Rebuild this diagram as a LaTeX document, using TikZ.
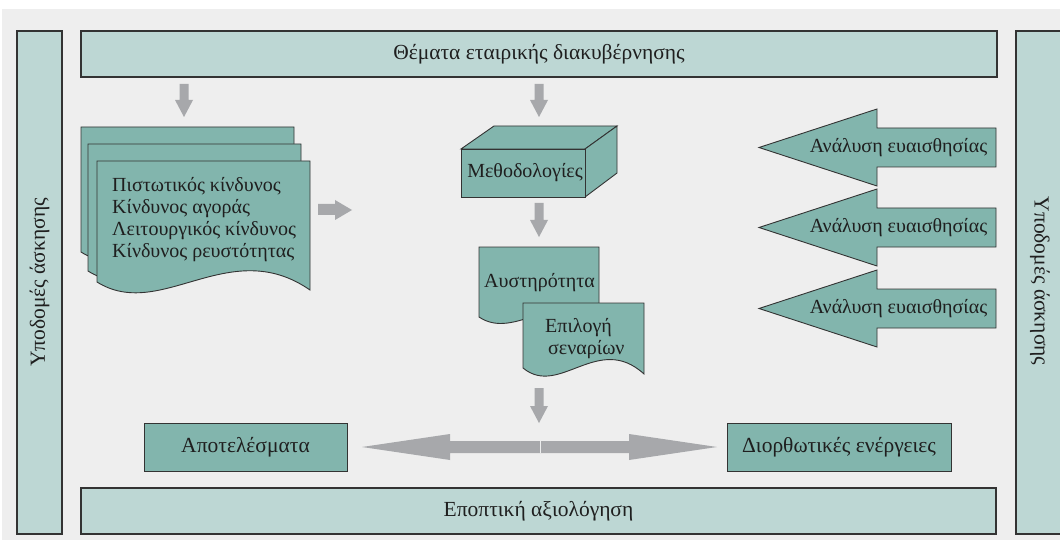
\documentclass[tikz,border=0pt]{standalone}
\usepackage{fontspec}
\setmainfont{Liberation Serif}
\definecolor{bgc}{HTML}{EEEEEE}
\definecolor{barc}{HTML}{BDD7D4}
\definecolor{boxc}{HTML}{82B5AD}
\definecolor{arrc}{HTML}{A7A8AB}
\definecolor{edgec}{HTML}{333333}
\tikzset{
  bar/.style={draw=edgec, line width=1.3pt, fill=barc, inner sep=0pt, font=\fontsize{21.5}{24}\selectfont, text=black!88},
  tealbox/.style={draw=edgec, line width=0.9pt, fill=boxc, inner sep=0pt, font=\fontsize{21.5}{24}\selectfont, text=black!88},
  tealshape/.style={draw=edgec, line width=0.9pt, fill=boxc, line join=miter},
  blockarrow/.style={fill=arrc, draw=none},
  lbl/.style={inner sep=0pt, font=\fontsize{20}{22}\selectfont, text=black!88}
}
% doc sheet: x y w h amplitude
\newcommand\docsheet[5]{%
  \draw[tealshape] (#1,#2) -- ({#1+#3},#2) -- ({#1+#3},{#2+#4+8*#5})
    .. controls ({#1+0.62*#3},{#2+#4-48*#5}) and ({#1+0.3*#3},{#2+#4+40*#5}) .. (#1,{#2+#4}) -- cycle;}
\newcommand\grayDown[3]{% x ytop ytip
  \fill[blockarrow] ({#1-4.5},#2) -- ({#1+4.5},#2) -- ({#1+4.5},{#3-17}) -- ({#1+9},{#3-17}) -- (#1,#3) -- ({#1-9},{#3-17}) -- ({#1-4.5},{#3-17}) -- cycle;}
\newcommand\tealLeft[1]{% y centre
  \draw[tealshape] (759,#1) -- (877,{#1-38.5}) -- (877,{#1-19.5}) -- (996,{#1-19.5}) -- (996,{#1+19.5}) -- (877,{#1+19.5}) -- (877,{#1+38.5}) -- cycle;}
\begin{document}
\begin{tikzpicture}[x=1pt,y=-1pt]
\useasboundingbox (0,0) rectangle (1060,540);
\fill[bgc] (2,9) rectangle (1060,540);
% frame bars
\node[bar, minimum width=916pt, minimum height=46pt] (top) at (539,54) {Θέματα εταιρικής διακυβέρνησης};
\node[bar, minimum width=915pt, minimum height=46pt] (bottom) at (538.5,511) {Εποπτική αξιολόγηση};
\node[bar, rotate=90, minimum width=503pt, minimum height=45pt] (left) at (39.5,282.5) {Υποδομές άσκησης};
\node[bar, rotate=-90, minimum width=503pt, minimum height=48pt] (right) at (1040,282.5) {\hspace*{-3pt}Υποδομές άσκησης};
% down arrows from top bar
\grayDown{184}{84}{117}
\grayDown{539}{84}{117}
% risk documents
\docsheet{81}{127}{213}{125}{1}
\docsheet{88}{144}{213}{127}{1}
\docsheet{97}{161}{213}{121}{1}
\node[lbl, anchor=west, align=left] (risks) at (112,220)
  {Πιστωτικός κίνδυνος\\Κίνδυνος αγοράς\\Λειτουργικός κίνδυνος\\Κίνδυνος ρευστότητας};
\fill[blockarrow] (318,204) -- (335,204) -- (335,200) -- (352,210) -- (335,220) -- (335,215) -- (318,215) -- cycle;
% methodologies box
\draw[tealshape] (461,149) -- (494,126) -- (617,126) -- (585,149) -- cycle;
\draw[tealshape] (585,149) -- (617,126) -- (617,173) -- (585,197) -- cycle;
\draw[tealshape] (461,149) rectangle (585,197);
\node[lbl] (meth) at (525,173) {Μεθοδολογίες};
\grayDown{539}{203}{237}
% rigour / scenarios
\docsheet{479}{247}{120}{70}{0.6}
\node[lbl] (rig) at (539.5,283) {Αυστηρότητα};
\docsheet{523}{303}{121}{65}{0.75}
\node[lbl, anchor=west, align=left] (scen) at (545,339) {Επιλογή\\\hspace*{3pt}σεναρίων};
\grayDown{539}{388}{423}
% sensitivity arrows
\tealLeft{147.5}
\node[lbl] (s1) at (898.5,147.5) {Ανάλυση ευαισθησίας};
\tealLeft{227.5}
\node[lbl] (s2) at (898.5,227.5) {Ανάλυση ευαισθησίας};
\tealLeft{308.5}
\node[lbl] (s3) at (898.5,308.5) {Ανάλυση ευαισθησίας};
% results / corrective actions
\node[tealbox, minimum width=203pt, minimum height=48pt] (res) at (245.5,447) {Αποτελέσματα};
\node[tealbox, minimum width=224pt, minimum height=48pt] (corr) at (839,447) {Διορθωτικές ενέργειες};
\fill[blockarrow] (362,447) -- (450,434) -- (450,441) -- (629,441) -- (629,434) -- (717,447) -- (629,460) -- (629,453) -- (450,453) -- (450,460) -- cycle;
\draw[white!80!arrc, line width=0.6pt] (540,441) -- (540,453);
\end{tikzpicture}
\end{document}
